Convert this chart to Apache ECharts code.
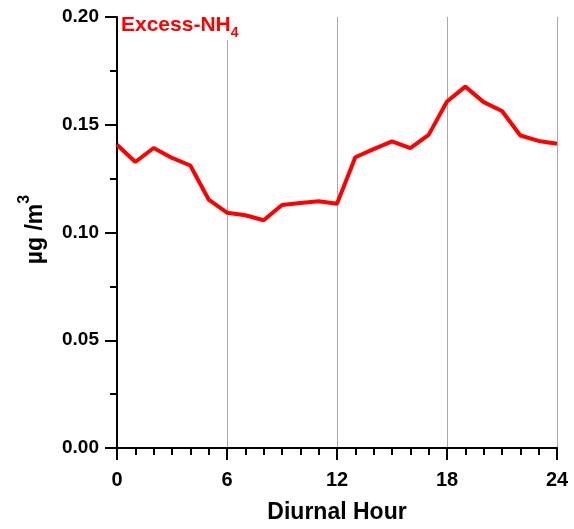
<!DOCTYPE html>
<html>
<head>
<meta charset="utf-8">
<script src="https://cdn.jsdelivr.net/npm/echarts@6/dist/echarts.min.js"></script>
<style>
  html, body { margin: 0; padding: 0; background: #fff; }
  #chart { width: 574px; height: 529px; }
</style>
</head>
<body>
<div id="chart"></div>
<script>
// Diurnal cycle of excess ammonium (hour of day vs concentration)
const hours = [0, 1, 2, 3, 4, 5, 6, 7, 8, 9, 10, 11, 12, 13, 14, 15, 16, 17, 18, 19, 20, 21, 22, 23, 24];
const excessNH4 = [0.1407, 0.1327, 0.1392, 0.1346, 0.1311, 0.1153, 0.1092, 0.1080, 0.1057, 0.1128, 0.1137, 0.1145, 0.1133,
                   0.1349, 0.1387, 0.1423, 0.1392, 0.1453, 0.1608, 0.1677, 0.1605, 0.1564, 0.1450, 0.1425, 0.1412];
const xTicks = [0, 6, 12, 18, 24];
const yTicks = [0, 0.05, 0.10, 0.15, 0.20];

const FONT = '"Liberation Sans", Arial, sans-serif';

const chart = echarts.init(document.getElementById('chart'), null, { renderer: 'canvas' });

chart.setOption({
  animation: false,
  backgroundColor: '#ffffff',
  grid: { left: 117, top: 17, width: 440, height: 437, containLabel: false },
  xAxis: {
    type: 'value',
    min: xTicks[0],
    max: xTicks[xTicks.length - 1],
    interval: 6,
    name: 'Diurnal Hour',
    nameLocation: 'middle',
    nameGap: 53,
    nameTextStyle: { fontFamily: FONT, fontWeight: 'bold', fontSize: 23, color: '#000' },
    axisLine: { show: true, onZero: false, lineStyle: { color: '#000', width: 2 } },
    axisTick: { show: true, inside: false, length: 12, lineStyle: { color: '#000', width: 2 } },
    minorTick: { show: true, splitNumber: 6, length: 7, lineStyle: { color: '#000', width: 2 } },
    axisLabel: { fontFamily: FONT, fontWeight: 'bold', fontSize: 20, color: '#000', margin: 22 },
    splitLine: { show: true, lineStyle: { color: '#a8a8a8', width: 1 } }
  },
  yAxis: {
    type: 'value',
    min: yTicks[0],
    max: yTicks[yTicks.length - 1],
    interval: 0.05,
    name: '{a|µg /m}{s|3}',
    nameLocation: 'middle',
    nameRotate: 90,
    nameGap: 70,
    nameTextStyle: {
      padding: [0, 0, 0, 6],
      rich: {
        a: { fontFamily: FONT, fontWeight: 'bold', fontSize: 23, color: '#000', lineHeight: 30, verticalAlign: 'bottom' },
        s: { fontFamily: FONT, fontWeight: 'bold', fontSize: 16, color: '#000', verticalAlign: 'top' }
      }
    },
    axisLine: { show: true, onZero: false, lineStyle: { color: '#000', width: 2 } },
    axisTick: { show: true, inside: false, length: 12, lineStyle: { color: '#000', width: 2 } },
    minorTick: { show: true, splitNumber: 2, length: 7, lineStyle: { color: '#000', width: 2 } },
    axisLabel: {
      fontFamily: FONT, fontWeight: 'bold', fontSize: 19, color: '#000', margin: 18,
      formatter: v => v.toFixed(2)
    },
    splitLine: { show: false }
  },
  graphic: [
    {
      type: 'rect',
      z: 10,
      shape: { x: 119, y: 17, width: 126, height: 23 },
      style: { fill: '#ffffff' }
    },
    {
      type: 'text',
      z: 11,
      left: 121,
      top: 15,
      style: {
        text: '{a|Excess-NH}{b|4}',
        rich: {
          a: { fontFamily: FONT, fontWeight: 'bold', fontSize: 21, fill: '#ff0000', lineHeight: 25, verticalAlign: 'top' },
          b: { fontFamily: FONT, fontWeight: 'bold', fontSize: 14, fill: '#ff0000', verticalAlign: 'bottom' }
        }
      }
    }
  ],
  series: [{
    type: 'line',
    data: hours.map((h, i) => [h, excessNH4[i]]),
    symbol: 'none',
    smooth: false,
    lineStyle: { color: '#ff0000', width: 4 },
    z: 5
  }]
});
</script>
</body>
</html>
